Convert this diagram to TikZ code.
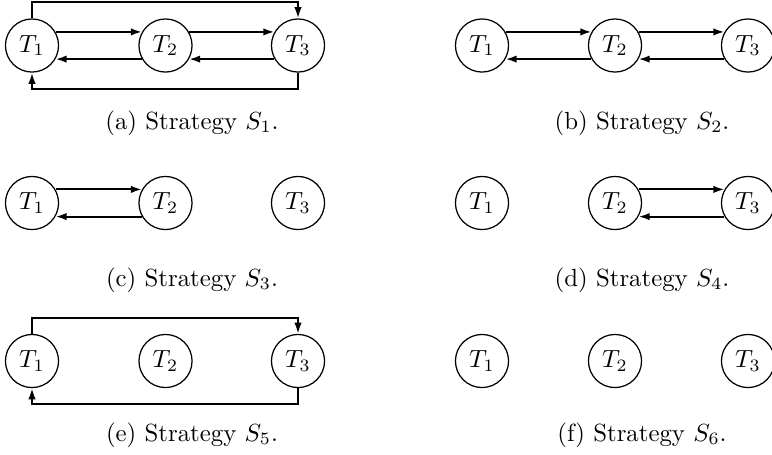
\documentclass[tikz,border=0pt]{standalone}
\usetikzlibrary{arrows.meta}
\begin{document}
\begin{tikzpicture}[x=0.403pt,y=-0.403pt,
  task/.style={circle,draw,line width=0.5pt,minimum size=21.4pt,inner sep=0pt},
  link/.style={line width=0.8pt,-{Latex[length=4.5pt,width=3pt]}},
  captext/.style={inner sep=0pt,anchor=center}]
\useasboundingbox (0,0) rectangle (772,454);
\clip (0,0) rectangle (772,454);
% column positions
\def\xa{32}\def\xb{165.5}\def\xc{298}
\def\xd{482}\def\xe{615}\def\xf{748}
% (a)
\node[task] (a1) at (\xa,45.5) {$T_1$};
\node[task] (a2) at (\xb,45.5) {$T_2$};
\node[task] (a3) at (\xc,45.5) {$T_3$};
\draw[link] (a1.30) -- (a2.150);
\draw[link] (a2.210) -- (a1.330);
\draw[link] (a2.30) -- (a3.150);
\draw[link] (a3.210) -- (a2.330);
\draw[link] (a1.north) -- ++(0,-16) -| (a3.north);
\draw[link] (a3.south) -- ++(0,16) -| (a1.south);
\node[captext] (ca) at (192,123) {(a) Strategy $S_1$.};
% (b)
\node[task] (b1) at (\xd,45.5) {$T_1$};
\node[task] (b2) at (\xe,45.5) {$T_2$};
\node[task] (b3) at (\xf,45.5) {$T_3$};
\draw[link] (b1.30) -- (b2.150);
\draw[link] (b2.210) -- (b1.330);
\draw[link] (b2.30) -- (b3.150);
\draw[link] (b3.210) -- (b2.330);
\node[captext] (cb) at (642,123) {(b) Strategy $S_2$.};
% (c)
\node[task] (c1) at (\xa,203) {$T_1$};
\node[task] (c2) at (\xb,203) {$T_2$};
\node[task] (c3) at (\xc,203) {$T_3$};
\draw[link] (c1.30) -- (c2.150);
\draw[link] (c2.210) -- (c1.330);
\node[captext] (cc) at (192,280) {(c) Strategy $S_3$.};
% (d)
\node[task] (d1) at (\xd,203) {$T_1$};
\node[task] (d2) at (\xe,203) {$T_2$};
\node[task] (d3) at (\xf,203) {$T_3$};
\draw[link] (d2.30) -- (d3.150);
\draw[link] (d3.210) -- (d2.330);
\node[captext] (cd) at (642,280) {(d) Strategy $S_4$.};
% (e)
\node[task] (e1) at (\xa,361) {$T_1$};
\node[task] (e2) at (\xb,361) {$T_2$};
\node[task] (e3) at (\xc,361) {$T_3$};
\draw[link] (e1.north) -- ++(0,-16) -| (e3.north);
\draw[link] (e3.south) -- ++(0,16) -| (e1.south);
\node[captext] (ce) at (192,435) {(e) Strategy $S_5$.};
% (f)
\node[task] (f1) at (\xd,361) {$T_1$};
\node[task] (f2) at (\xe,361) {$T_2$};
\node[task] (f3) at (\xf,361) {$T_3$};
\node[captext] (cf) at (642,435) {(f) Strategy $S_6$.};
\end{tikzpicture}
\end{document}
